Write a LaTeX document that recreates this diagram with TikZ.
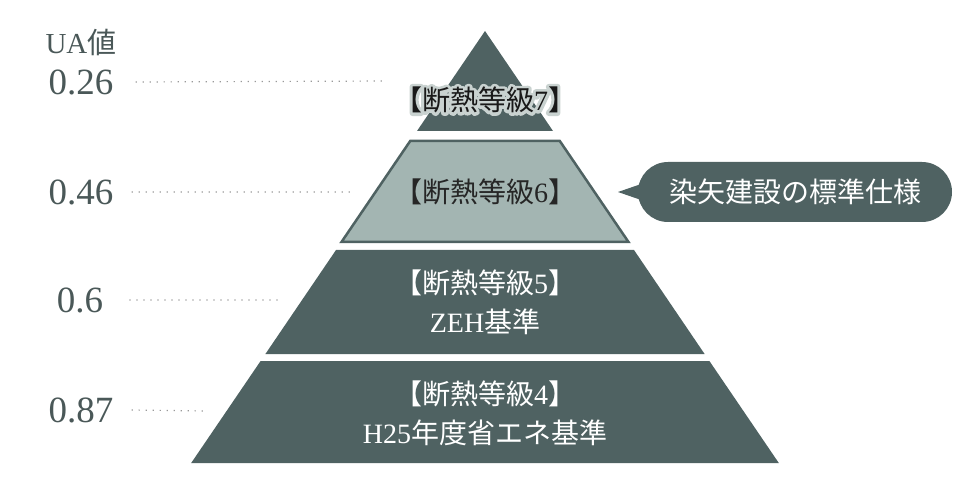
\documentclass[tikz,border=0pt]{standalone}
\usepackage{fontspec}
\usepackage{xcolor}
\usepackage{tikz}
\usetikzlibrary{positioning}
\setmainfont{Liberation Serif}
\newfontfamily\cjk{Noto Sans CJK JP}
\newfontfamily\cjkglow[FakeBold=22]{Noto Sans CJK JP}
\newfontfamily\latglow[FakeBold=22]{Liberation Serif}
\definecolor{slate}{HTML}{4F6262}
\definecolor{sage}{HTML}{A3B5B2}
\definecolor{ink}{HTML}{4A5858}
\definecolor{glow}{HTML}{C9D2D0}
\tikzset{band/.style={fill=slate},
  light band/.style={fill=sage,draw=slate,line width=2.5pt,line join=miter},
  band label/.style={text=white,align=center,font=\fontsize{28}{39}\selectfont},
  ua label/.style={text=ink,inner sep=0pt,font=\fontsize{37}{40}\selectfont},
  ua line/.style={draw=gray!80,line width=1.2pt,dash pattern=on 1.2pt off 5.8pt},
  callout/.style={fill=slate,text=white,rounded corners=30pt,minimum width=314pt,minimum height=60pt,font=\fontsize{28}{34}\selectfont\cjk},}

\begin{document}
\begin{tikzpicture}[x=1pt,y=-1pt]
    \useasboundingbox (0,0) rectangle (980,486);

    % pyramid
    \path[band] (485,31) -- (553,131) -- (417,131) -- cycle;
    \path[light band] (410.2,141) -- (559.8,141) -- (628.5,242) -- (341.5,242) -- cycle;
    \path[band] (336,250) -- (634,250) -- (704.6,354) -- (265.4,354) -- cycle;
    \path[band] (260.6,361) -- (709.4,361) -- (778.8,463) -- (191.2,463) -- cycle;

    \node[band label,text=black!90] (g7) at (485,100)
      {\makebox[0pt][l]{\special{pdf:literal direct 1 j 1 J}\color{glow}{\cjkglow 【断熱等級}{\latglow 7}{\cjkglow 】}}{\cjk 【断熱等級}7{\cjk 】}};
    \node[band label,text=black!85] (g6) at (485,192) {{\cjk 【断熱等級}6{\cjk 】}};
    \node[band label] (g5) at (485,302) {{\cjk 【断熱等級}5{\cjk 】}\\ZEH{\cjk 基準}};
    \node[band label] (g4) at (485,413) {{\cjk 【断熱等級}4{\cjk 】}\\H25{\cjk 年度省エネ基準}};

    % UA values
    \node[ua label] (v26) at (81,82) {0.26};
    \node[ua label] (v46) at (81,192) {0.46};
    \node[ua label] (v60) at (80,300) {0.6};
    \node[ua label] (v87) at (81,410) {0.87};
    \node[ua label,font=\fontsize{29}{30}\selectfont] (ua) [above=13pt of v26] {UA{\cjk 値}};

    \coordinate (e26) at (387,81);
    \coordinate (e46) at (352,192);
    \coordinate (e60) at (282,300);
    \coordinate (e87) at (206,411);

    \path[ua line]
    ([xshift=22pt]v26.east) -- (e26)
    ([xshift=18pt]v46.east) -- (e46)
    ([xshift=26pt]v60.east) -- (e60)
    ([xshift=18pt]v87.east) -- (e87)
    ;

    % callout
    \node[callout] (std) at (795,192) {染矢建設の標準仕様};
    \coordinate (tip) at (618,192);
    \path[fill=slate] (tip) -- ([xshift=12pt,yshift=11pt]std.west) -- ([xshift=12pt,yshift=-11pt]std.west) -- cycle;
\end{tikzpicture}
\end{document}
